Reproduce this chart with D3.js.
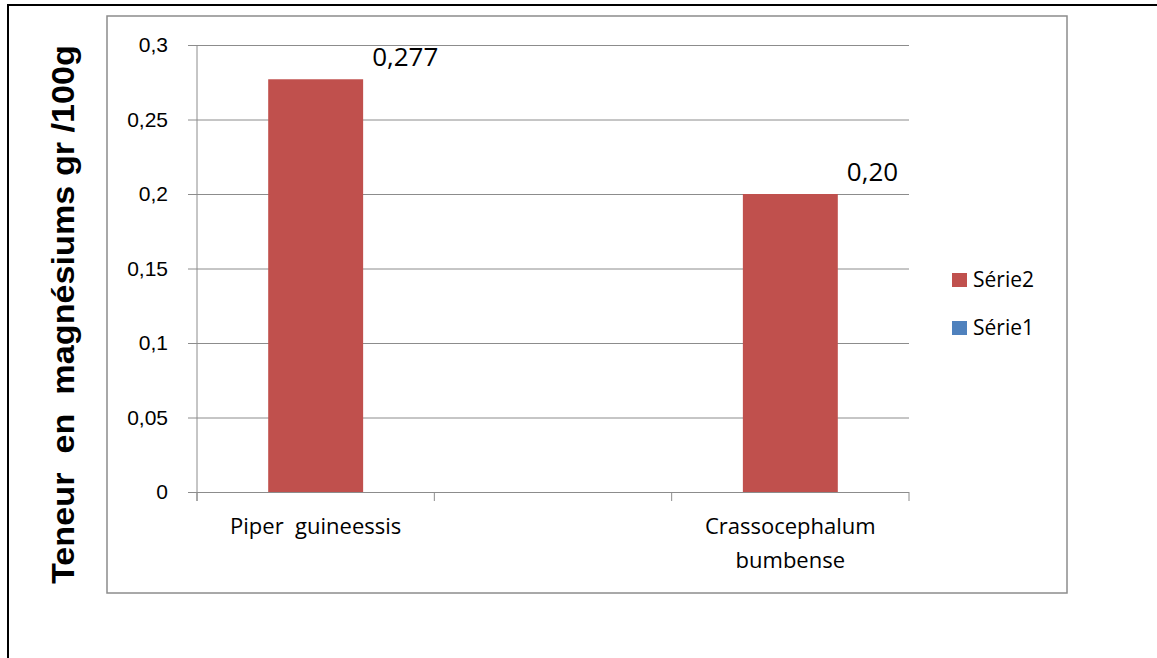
<!DOCTYPE html>
<html>
<head>
<meta charset="utf-8">
<script src="https://cdn.jsdelivr.net/npm/d3@7"></script>
<style>
  body { margin: 0; background: #fff; }
  svg { display: block; font-family: "Open Sans", Lato, sans-serif; }
</style>
</head>
<body>
<div id="chart"></div>
<script>
// chart data (the middle category is empty in the original sheet)
const categories = [["Piper  guineessis"], [""], ["Crassocephalum", "bumbense"]];
const serie2 = [0.277, null, 0.20];
const valueLabels = ["0,277", "", "0,20"];
const yTicks = [0, 0.05, 0.1, 0.15, 0.2, 0.25, 0.3];
const legendNames = ["Série2", "Série1"];
const legendColors = ["#C0504D", "#4F81BD"];

let width = 1157, height = 658,
    margin = ({ top: 45, right: 248, bottom: 166, left: 197 });

const svg = d3.select("#chart")
  .append("svg")
  .attr("width", width)
  .attr("height", height)
  .attr("viewBox", [0, 0, width, height]);

// outer frame (only top and left show in the picture)
svg.append("path")
  .attr("d", `M8,${height} V5 H${width}`)
  .attr("fill", "none")
  .attr("stroke", "#000")
  .attr("stroke-width", 2);

// chart area frame
svg.append("rect")
  .attr("x", 107).attr("y", 16)
  .attr("width", 960).attr("height", 577)
  .attr("fill", "none")
  .attr("stroke", "#8c8c8c")
  .attr("stroke-width", 1.5);

const x = d3.scaleBand()
  .domain(d3.range(categories.length))
  .range([margin.left, width - margin.right]);

const y = d3.scaleLinear()
  .domain([0, 0.3])
  .range([height - margin.bottom, margin.top]);

// horizontal grid + y axis
svg.append("g")
  .attr("transform", `translate(${margin.left},0)`)
  .call(d3.axisLeft(y).tickValues(yTicks)
    .tickSize(-(width - margin.left - margin.right))
    .tickPadding(29)
    .tickFormat(d => d3.format("")(d).replace(".", ",")))
  .call(g => g.select(".domain").remove())
  .call(g => g.selectAll(".tick line").attr("stroke", "#8c8c8c").attr("x1", -9))
  .call(g => g.selectAll(".tick text").attr("fill", "#000").attr("font-size", 21));

// vertical axis line
svg.append("line")
  .attr("x1", margin.left).attr("x2", margin.left)
  .attr("y1", y(0.3)).attr("y2", y(0) + 9)
  .attr("stroke", "#8c8c8c");

// category tick marks
const catEdges = d3.range(categories.length + 1).map(i => margin.left + i * x.step());
svg.append("g")
  .selectAll("line")
  .data(catEdges)
  .join("line")
  .attr("x1", d => d).attr("x2", d => d)
  .attr("y1", y(0)).attr("y2", y(0) + 9)
  .attr("stroke", "#8c8c8c");

// bars
const barW = x.bandwidth() * 0.4;
svg.append("g")
  .attr("fill", legendColors[0])
  .selectAll("rect")
  .data(serie2.map((v, i) => ({ v, i })).filter(d => d.v != null))
  .join("rect")
  .attr("x", d => x(d.i) + (x.bandwidth() - barW) / 2)
  .attr("y", d => y(d.v))
  .attr("width", barW)
  .attr("height", d => y(0) - y(d.v));

// value labels
svg.append("g")
  .selectAll("text")
  .data(serie2.map((v, i) => ({ v, i })).filter(d => d.v != null))
  .join("text")
  .attr("x", d => x(d.i) + (x.bandwidth() + barW) / 2 + 9)
  .attr("y", d => y(d.v) - 13)
  .attr("font-size", 26)
  .text(d => valueLabels[d.i]);

// category labels
svg.append("g")
  .selectAll("text")
  .data(categories)
  .join("text")
  .attr("text-anchor", "middle")
  .attr("font-size", 22)
  .attr("x", (d, i) => x(i) + x.bandwidth() / 2)
  .attr("y", y(0) + 42)
  .style("white-space", "pre")
  .selectAll("tspan")
  .data(d => d)
  .join("tspan")
  .attr("x", function() { return d3.select(this.parentNode).attr("x"); })
  .attr("dy", (d, i) => i === 0 ? 0 : 34)
  .text(d => d);

// y axis title
svg.append("text")
  .attr("transform", `translate(74,${(45 + 584) / 2}) rotate(-90)`)
  .attr("text-anchor", "middle")
  .attr("font-family", "'Liberation Sans', Arial, sans-serif")
  .attr("font-weight", "bold")
  .attr("font-size", 32)
  .attr("textLength", 539)
  .attr("lengthAdjust", "spacingAndGlyphs")
  .style("white-space", "pre")
  .text("Teneur  en  magnésiums gr /100g");

// legend
const legend = svg.append("g")
  .selectAll("g")
  .data(legendNames)
  .join("g")
  .attr("transform", (d, i) => `translate(952,${273 + i * 48})`);
legend.append("rect")
  .attr("width", 15).attr("height", 14)
  .attr("fill", (d, i) => legendColors[i]);
legend.append("text")
  .attr("x", 21).attr("y", 14)
  .attr("font-size", 21)
  .text(d => d);
</script>
</body>
</html>
